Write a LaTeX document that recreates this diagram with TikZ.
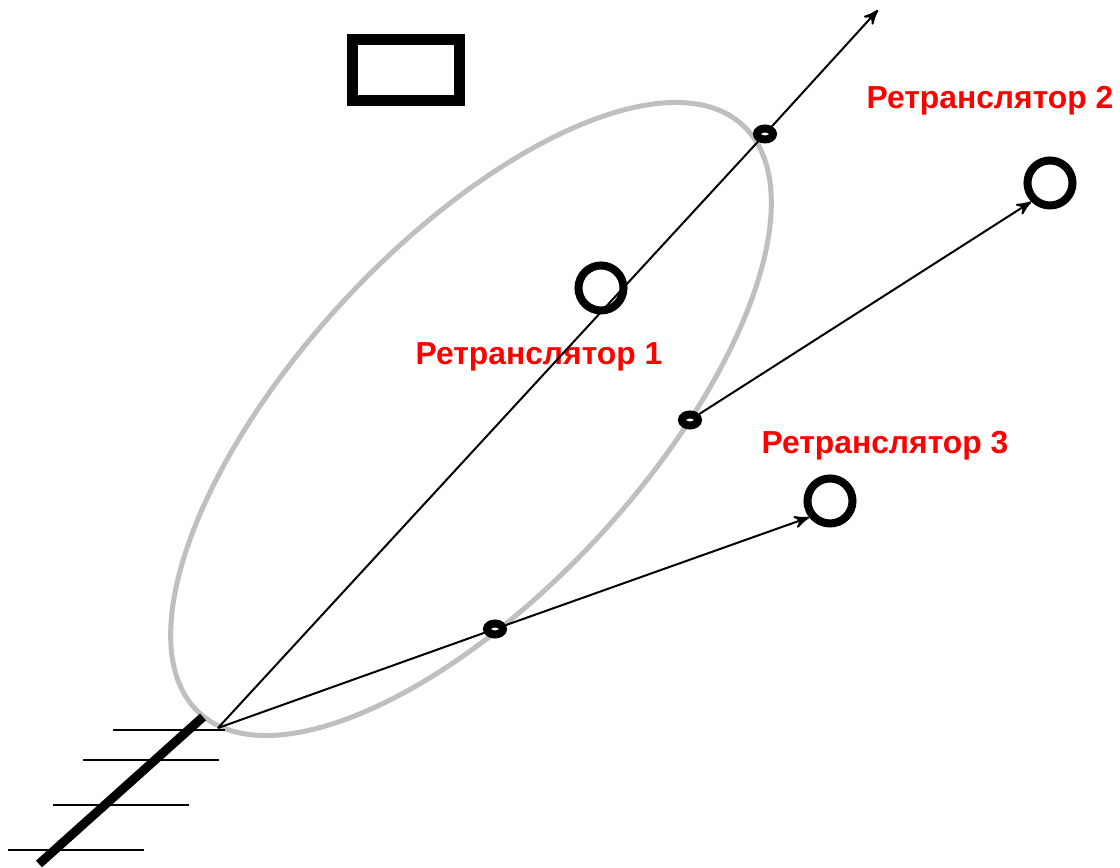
\documentclass[tikz,border=0pt]{standalone}
\usepackage{fontspec}
\setmainfont{Liberation Sans}
\usetikzlibrary{shapes, arrows, positioning}
\tikzstyle{ring}  = [draw, circle, line width=0.08cm, minimum size=0.45cm, inner sep=0pt]
\tikzstyle{tap}   = [draw, ellipse, fill=white, line width=0.08cm, minimum width=0.16cm, minimum height=0.11cm, inner sep=0pt]
\tikzstyle{lobe}  = [draw=gray!50, ellipse, line width=0.05cm, inner sep=0pt]
\tikzstyle{lbl}   = [text=red, font=\fontsize{9.05pt}{10pt}\selectfont\bfseries, inner sep=0pt]
\tikzstyle{ray}   = [draw, -stealth', line width=0.02cm]
\tikzstyle{thin}  = [draw, line width=0.02cm]

\begin{document}
\begin{tikzpicture}[x=0.01cm, y=-0.01cm]
\useasboundingbox (0,0) rectangle (1120,868);

% antenna pattern
\node [lobe, minimum width=8cm, minimum height=3.47cm, rotate=47.2] (lobe) at (471,419) {};

% nodes
\node [draw, rectangle, line width=0.11cm, minimum width=1.07cm, minimum height=0.61cm, inner sep=0pt] (sat) at (406,70) {};
\node [ring] (rep1) at (601,288) {};
\node [ring] (rep2) at (1050,183) {};
\node [ring] (rep3) at (830,501) {};

% labels
\node [lbl] (lbl1) at (539,357) {Ретранслятор 1};
\node [lbl] (lbl2) at (990,101) {Ретранслятор 2};
\node [lbl] (lbl3) at (885,446) {Ретранслятор 3};

% antenna
\coordinate (feed) at (218,728);
\coordinate (top)  at (878,10);
\coordinate (mast1) at (203,717);
\coordinate (mast2) at (39,864);
\coordinate (a1) at (113,730);
\coordinate (b1) at (225,730);
\coordinate (a2) at (83,760);
\coordinate (b2) at (219,760);
\coordinate (a3) at (53,805);
\coordinate (b3) at (189,805);
\coordinate (a4) at (8,850);
\coordinate (b4) at (144,850);

\draw [line width=0.09cm] (mast1) -- (mast2);
\path [thin] (a1) -- (b1);
\path [thin] (a2) -- (b2);
\path [thin] (a3) -- (b3);
\path [thin] (a4) -- (b4);

%  edges
\node [tap]  (tap1) at (765,134) {};
\node [tap]  (tap2) at (690,420) {};
\node [tap]  (tap3) at (495,629) {};
\path [thin] (feed) -- (tap1);
\path [ray]  (tap1) -- (top);
\path [ray]  (tap2) -- (rep2.225);
\path [thin] (feed) -- (tap3);
\path [ray]  (tap3) -- (rep3.218);

\end{tikzpicture}
\end{document}
